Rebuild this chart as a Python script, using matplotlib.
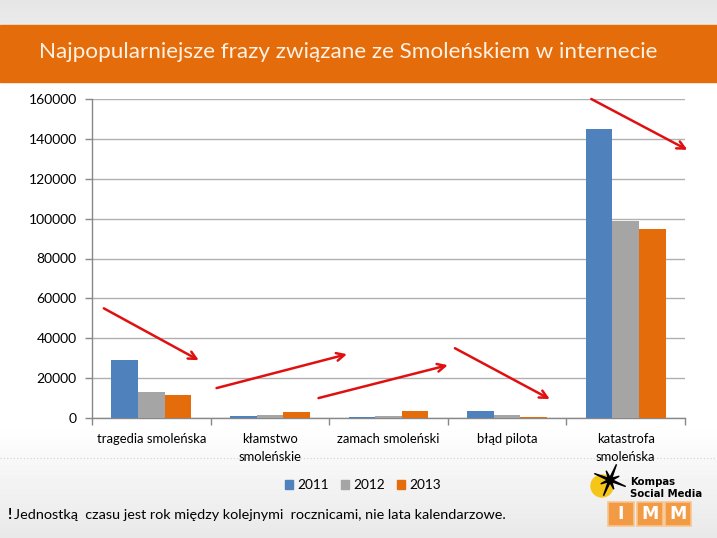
import numpy as np
import matplotlib
matplotlib.use("Agg")
import matplotlib.pyplot as plt
from matplotlib.patches import Rectangle, Polygon, Circle

categories = ["tragedia smoleńska", "kłamstwo\nsmoleńskie", "zamach smoleński", "błąd pilota", "katastrofa\nsmoleńska"]
years = ["2011", "2012", "2013"]
v2011 = [29000, 1200, 700, 3600, 145000]
v2012 = [13000, 1600, 1100, 1600, 99000]
v2013 = [11500, 3200, 3600, 600, 95000]
yticks = [0, 20000, 40000, 60000, 80000, 100000, 120000, 140000, 160000]
# trend arrows (start, end) in data coords
arrows = [((-0.40, 55000), (0.40, 29000)),
          ((0.55, 15000), (1.65, 32000)),
          ((1.41, 10000), (2.50, 26500)),
          ((2.56, 35000), (3.36, 9500)),
          ((3.71, 160000), (4.52, 134500))]
title = "Najpopularniejsze frazy związane ze Smoleńskiem w internecie"
note = "Jednostką  czasu jest rok między kolejnymi  rocznicami, nie lata kalendarzowe."

colors = ["#4F81BD", "#A5A5A5", "#E46C0A"]
FONT = ["Lato", "DejaVu Sans"]
plt.rcParams['font.family'] = FONT

W, H = 717, 538
fig = plt.figure(figsize=(W/100, H/100), dpi=100)

# background
bg = fig.add_axes([0, 0, 1, 1])
bg.set_xlim(0, W); bg.set_ylim(H, 0); bg.axis("off")
grad = np.ones((H, 1))
for i in range(H):
    if i < 25:
        grad[i] = 0.90 + 0.02 * (i / 25)
    elif i > 425:
        grad[i] = 1.0 - 0.09 * ((i - 425) / (H - 425))
bg.imshow(grad, cmap="gray", vmin=0, vmax=1, extent=[0, W, H, 0], aspect="auto", zorder=0)
bg.add_patch(Rectangle((0, 25), W, 57, color="#E46C0A", zorder=1))
bg.text(348, 52, title, color="#FFF1E3", fontsize=16.2, ha="center", va="center", zorder=2)
bg.plot([0, W], [458, 458], color="#D0D0D0", lw=0.8, ls=(0, (1, 2)), zorder=1)

# footnote
bg.text(7, 515, "!", fontsize=11, fontweight="bold", color="black", va="center", ha="left")
bg.text(14, 515, note, fontsize=10.4, color="black", va="center", ha="left")

# logo
bg.add_patch(Circle((602, 486), 11, color="#F5C518", zorder=2))
ang = np.linspace(0, 2*np.pi, 17)[:-1] + np.pi/8
cx, cy = 610, 480
pts = []
for k, a in enumerate(ang):
    r = 17 if k % 4 == 0 else (10 if k % 2 == 0 else 2.5)
    pts.append((cx + r*np.cos(a), cy + r*np.sin(a)))
bg.add_patch(Polygon(pts, closed=True, color="black", zorder=3))
bg.text(630, 482, "Kompas", fontsize=7.3, fontweight="bold", color="black", va="center", family=["DejaVu Sans"])
bg.text(630, 494, "Social Media", fontsize=7.3, fontweight="bold", color="black", va="center", family=["DejaVu Sans"])
for x0, letter in zip([608, 637, 665], ["I", "M", "M"]):
    bg.add_patch(Rectangle((x0, 502), 26, 24, facecolor="#F39A45", edgecolor="#F8C590", lw=1.2, zorder=2))
    bg.text(x0 + 13, 514, letter, fontsize=12.5, fontweight="bold", color="white", ha="center", va="center",
            family=["DejaVu Sans"], zorder=3)

# main chart
ax = fig.add_axes([92/W, 1 - 418/H, (685-92)/W, (418-99)/H])
ax.set_facecolor("none")
x = np.arange(len(categories))
bw = 0.224
for i, (vals, c, yr) in enumerate(zip([v2011, v2012, v2013], colors, years)):
    ax.bar(x + (i - 1) * bw, vals, width=bw, color=c, label=yr, zorder=3)
ax.set_xlim(-0.5, len(categories) - 0.5)
ax.set_ylim(0, 160000)
ax.set_yticks(yticks)
ax.set_yticklabels([str(t) for t in yticks], fontsize=10)
ax.yaxis.grid(True, color="#B0B0B0", lw=1.0, zorder=0)
ax.set_xticks(x)
ax.set_xticklabels(categories, fontsize=9.4, linespacing=1.55, va="top")
ax.set_xticks(np.arange(-0.5, len(categories)), minor=True)
ax.tick_params(axis="x", which="major", length=0, pad=11)
ax.tick_params(axis="x", which="minor", length=5, color="#888888", width=1)
ax.tick_params(axis="y", length=5, color="#888888", width=1, pad=6)
for s in ["top", "right"]:
    ax.spines[s].set_visible(False)
for s in ["left", "bottom"]:
    ax.spines[s].set_color("#888888")
    ax.spines[s].set_linewidth(1)

for (x0, y0), (x1, y1) in arrows:
    ax.annotate("", xy=(x1, y1), xytext=(x0, y0),
                arrowprops=dict(arrowstyle="->", color="#E01010", lw=1.8, mutation_scale=14,
                                shrinkA=0, shrinkB=0),
                annotation_clip=False, zorder=5)

handles = [Rectangle((0, 0), 1, 1, color=c) for c in colors]
fig.legend(handles, years, loc="center", bbox_to_anchor=(363/W, 1 - 485/H), ncol=3, frameon=False,
           fontsize=9.8, handlelength=0.6, handleheight=0.6, handletextpad=0.3, columnspacing=0.9)

fig.savefig("out.png", dpi=100)
